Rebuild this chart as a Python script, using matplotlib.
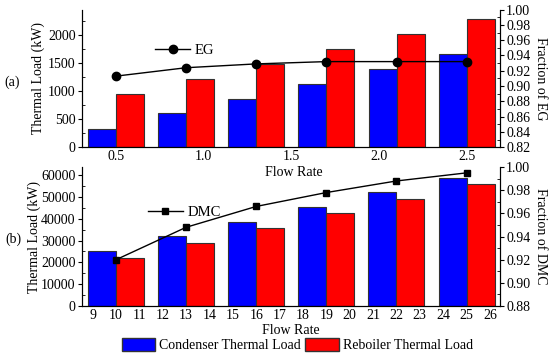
import numpy as np
import matplotlib
matplotlib.use('Agg')
import matplotlib.pyplot as plt
from matplotlib.ticker import MultipleLocator
from matplotlib.patches import Patch

plt.rcParams['font.family'] = ['Liberation Serif', 'DejaVu Serif']
plt.rcParams['font.size'] = 10

# (a) EG column
flow_eg = [0.5, 0.9, 1.3, 1.7, 2.1, 2.5]
cond_eg = [330, 600, 860, 1130, 1390, 1660]
reb_eg = [950, 1215, 1480, 1750, 2020, 2290]
frac_eg = [0.913, 0.924, 0.929, 0.932, 0.932, 0.932]
ticks_eg = [0.5, 1.0, 1.5, 2.0, 2.5]

# (b) DMC column
flow_dmc = [10, 13, 16, 19, 22, 25]
cond_dmc = [25000, 32000, 38500, 45500, 52300, 58800]
reb_dmc = [22200, 29000, 35800, 42700, 49200, 56000]
frac_dmc = [0.920, 0.948, 0.966, 0.978, 0.988, 0.995]
ticks_dmc = list(range(9, 27))

blue = '#0000ff'
red = '#ff0000'
edge = '#333333'

fig = plt.figure(figsize=(5.5, 3.58), dpi=100)
axa = fig.add_axes([0.149, 0.589, 0.760, 0.384])
axb = fig.add_axes([0.149, 0.1453, 0.760, 0.388])


def style(ax, twin):
    ax.spines['top'].set_visible(False)
    twin.spines['top'].set_visible(False)
    ax.tick_params(axis='x', length=0, pad=2)
    ax.tick_params(axis='y', which='major', direction='out', length=3, pad=1.5)
    ax.tick_params(axis='y', which='minor', direction='in', length=2)
    twin.tick_params(axis='y', which='major', direction='out', length=3, pad=1.5)
    twin.tick_params(axis='y', which='minor', direction='in', length=2)


# panel a
w = 0.16
x = np.array(flow_eg)
axa.bar(x - w / 2, cond_eg, w, color=blue, edgecolor=edge, linewidth=0.8)
axa.bar(x + w / 2, reb_eg, w, color=red, edgecolor=edge, linewidth=0.8)
axa.set_xlim(0.305, 2.69)
axa.set_ylim(0, 2450)
axa.set_xticks(ticks_eg)
axa.set_xticklabels(['%.1f' % t for t in ticks_eg])
axa.yaxis.set_major_locator(MultipleLocator(500))
axa.yaxis.set_minor_locator(MultipleLocator(250))
axa.set_ylabel('Thermal Load (kW)', fontsize=10, labelpad=2)
ta = axa.twinx()
ta.plot(flow_eg, frac_eg, color='black', lw=1, marker='o', ms=6, label='EG')
ta.set_ylim(0.82, 1.0)
ta.set_yticks(np.arange(0.82, 1.001, 0.02))
ta.set_yticklabels(['%.2f' % v for v in np.arange(0.82, 1.001, 0.02)])
ta.yaxis.set_minor_locator(MultipleLocator(0.01))
ta.set_ylabel('Fraction of EG', rotation=-90, fontsize=10, labelpad=12)
ta.legend(loc='center left', bbox_to_anchor=(0.175, 0.705), frameon=False,
          borderpad=0, borderaxespad=0, handlelength=2.4, handletextpad=0.3,
          fontsize=10.5)
style(axa, ta)

# panel b
w = 1.2
x = np.array(flow_dmc)
axb.bar(x - w / 2, cond_dmc, w, color=blue, edgecolor=edge, linewidth=0.8)
axb.bar(x + w / 2, reb_dmc, w, color=red, edgecolor=edge, linewidth=0.8)
axb.set_xlim(8.54, 26.43)
axb.set_ylim(0, 63700)
axb.set_xticks(ticks_dmc)
axb.yaxis.set_major_locator(MultipleLocator(10000))
axb.yaxis.set_minor_locator(MultipleLocator(5000))
axb.set_ylabel('Thermal Load (kW)', fontsize=10, labelpad=0)
tb = axb.twinx()
tb.plot(flow_dmc, frac_dmc, color='black', lw=1, marker='s', ms=5, label='DMC')
tb.set_ylim(0.88, 1.0)
tb.set_yticks(np.arange(0.88, 1.001, 0.02))
tb.set_yticklabels(['%.2f' % v for v in np.arange(0.88, 1.001, 0.02)])
tb.yaxis.set_minor_locator(MultipleLocator(0.01))
tb.set_ylabel('Fraction of DMC', rotation=-90, fontsize=10, labelpad=12)
tb.legend(loc='center left', bbox_to_anchor=(0.158, 0.676), frameon=False,
          borderpad=0, borderaxespad=0, handlelength=2.4, handletextpad=0.3,
          fontsize=10.5)
style(axb, tb)

fig.text(294 / 550, 1 - 172 / 358, 'Flow Rate', ha='center', va='center', fontsize=10)
fig.text(291 / 550, 1 - 330 / 358, 'Flow Rate', ha='center', va='center', fontsize=10)
fig.text(12 / 550, 1 - 82 / 358, '(a)', ha='center', va='center', fontsize=10)
fig.text(13 / 550, 1 - 239 / 358, '(b)', ha='center', va='center', fontsize=10)

handles = [Patch(facecolor=blue, edgecolor=edge, label='Condenser Thermal Load'),
           Patch(facecolor=red, edgecolor=edge, label='Reboiler Thermal Load')]
fig.legend(handles=handles, loc='center', bbox_to_anchor=(297.5 / 550, 1 - 345 / 358),
           ncol=2, frameon=False, fontsize=10, handlelength=2.4, handleheight=1.15,
           handletextpad=0.3, columnspacing=0.3, borderpad=0)

fig.savefig('out.png', dpi=100)
